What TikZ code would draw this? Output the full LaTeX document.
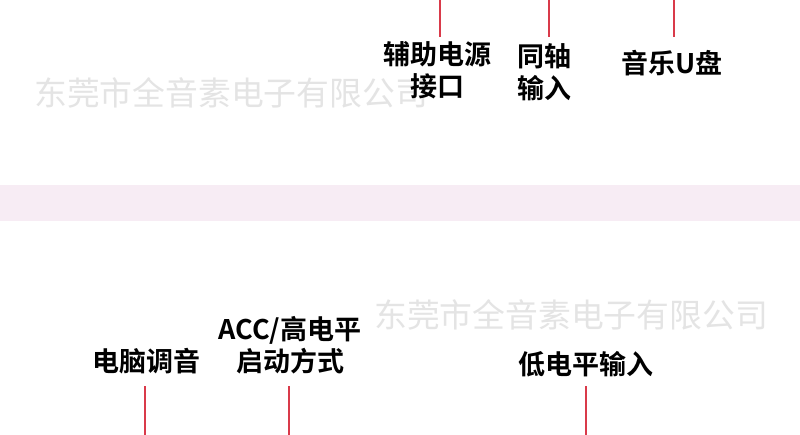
\documentclass[tikz,border=0pt]{standalone}
\usepackage{fontspec}
\newfontfamily\cjkbold{Noto Sans CJK SC Bold}
\newfontfamily\cjkreg{Noto Sans CJK SC}
\definecolor{band}{HTML}{F7ECF4}
\definecolor{leader}{HTML}{D93A4A}
\definecolor{wm}{HTML}{E4E4E4}
\tikzset{
  lbl/.style={font=\cjkbold\fontsize{27}{31.5}\selectfont, text=black, align=center, inner sep=0pt},
  wmark/.style={font=\cjkreg\fontsize{32.8}{36}\selectfont, text=wm, inner sep=0pt, anchor=west},
  leaderline/.style={draw=leader, line width=2pt}
}
\begin{document}
\begin{tikzpicture}[x=1pt,y=-1pt]
\useasboundingbox (0,0) rectangle (800,435);
\fill[white] (0,0) rectangle (800,435);
\fill[band] (0,185) rectangle (800,221);
% watermarks
\node[wmark] (wm1) at (34,93) {东莞市全音素电子有限公司};
\node[wmark] (wm2) at (374,315) {东莞市全音素电子有限公司};
% top labels
\node[lbl] (l1) at (437,70) {辅助电源\\接口};
\node[lbl] (l2) at (544,72) {同轴\\输入};
\node[lbl] (l3) at (672,63) {音乐U盘};
\coordinate (t1) at (440,0);
\coordinate (t2) at (549,0);
\coordinate (t3) at (674,0);
\coordinate (e1) at (440,37);
\coordinate (e2) at (549,37);
\coordinate (e3) at (674,37);
\draw[leaderline] (t1) -- (e1);
\draw[leaderline] (t2) -- (e2);
\draw[leaderline] (t3) -- (e3);
% bottom labels
\node[lbl] (b1) at (146,361) {电脑调音};
\node[lbl] (b2) at (290,345) {ACC/高电平\\启动方式};
\node[lbl] (b3) at (586,364) {低电平输入};
\coordinate (s1) at (145,386);
\coordinate (s2) at (289,386);
\coordinate (s3) at (586,386);
\coordinate (f1) at (145,435);
\coordinate (f2) at (289,435);
\coordinate (f3) at (586,435);
\draw[leaderline] (s1) -- (f1);
\draw[leaderline] (s2) -- (f2);
\draw[leaderline] (s3) -- (f3);
\end{tikzpicture}
\end{document}
